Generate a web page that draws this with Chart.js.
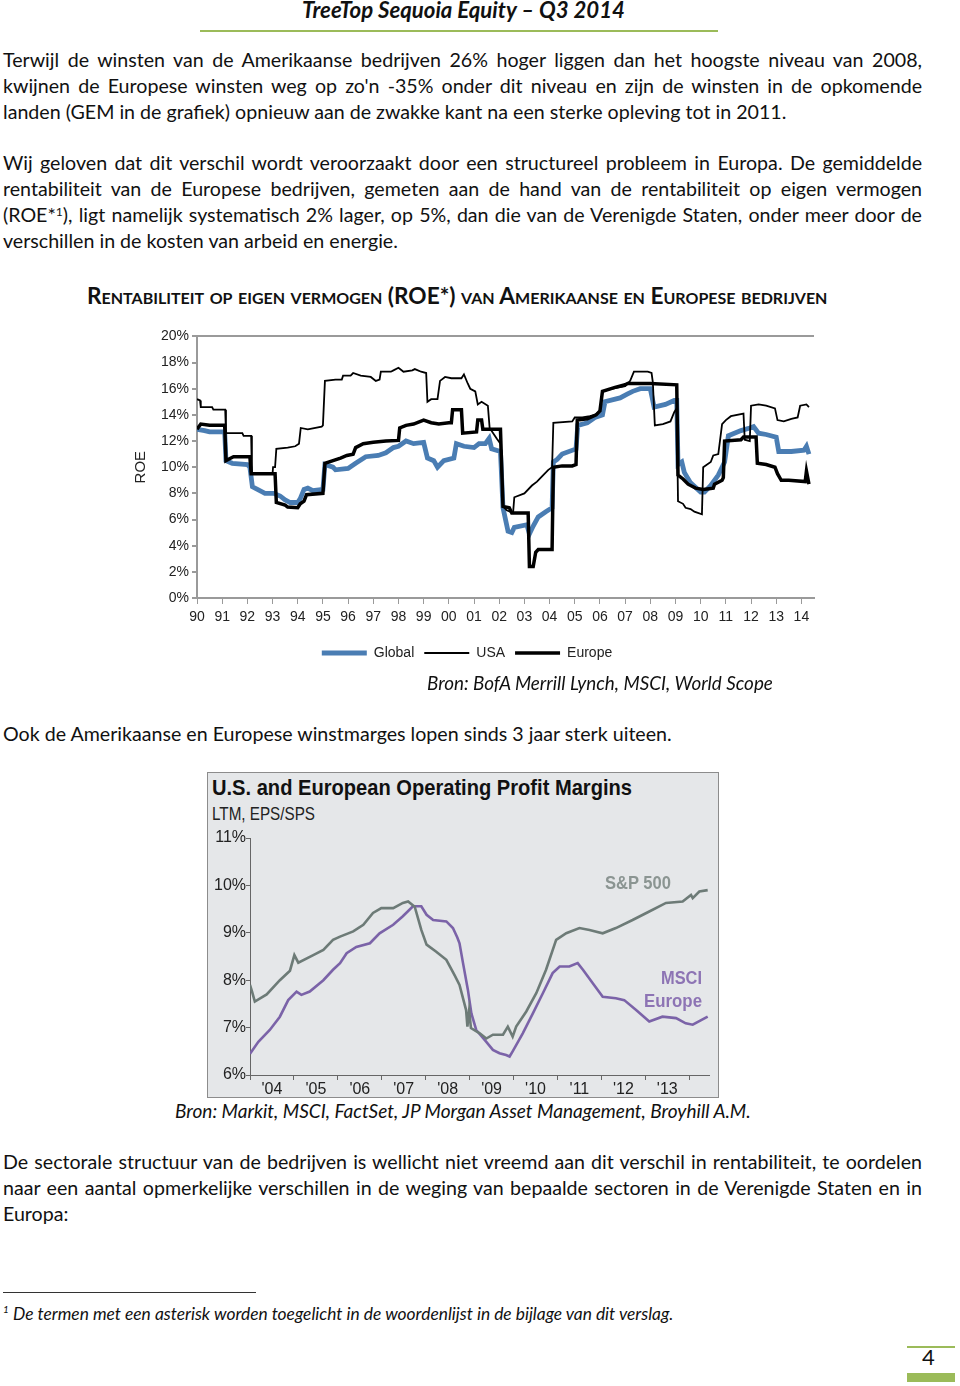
<!DOCTYPE html>
<html>
<head>
<meta charset="utf-8">
<script src="https://cdn.jsdelivr.net/npm/chart.js@4.4.1/dist/chart.umd.min.js"></script>
<style>
  body { margin: 0; background: #fff; }
  #page { position: relative; width: 960px; height: 1386px; overflow: hidden; font-family: Lato, "Open Sans", sans-serif; color: #111; }
  .t { position: absolute; white-space: nowrap; line-height: 26px; }
  .body { left: 3px; font-size: 18px; }
  .rule { position: absolute; }
  sup { font-size: 0.62em; line-height: 0; vertical-align: 0.5em; }
  #box2 { position: absolute; left: 207px; top: 772px; width: 512px; height: 326px; box-sizing: border-box; border: 1px solid #8c8c8c; background: #e5e7e9; }
  .c2 { position: absolute; white-space: nowrap; font-family: "Liberation Sans", Arial, sans-serif; transform-origin: 0 50%; line-height: 1; }
  canvas { position: absolute; }
</style>
</head>
<body>
<div id="page">
  <div class="t" id="hdr" style="top:-3px;font-weight:700;font-style:italic;font-size:20px;">TreeTop Sequoia Equity – Q3 2014</div>
  <div class="rule" style="left:200px;top:30px;width:518px;height:2px;background:#9bbb59;"></div>

  <div class="t body j" style="top:47px"><span>Terwijl de winsten van de Amerikaanse bedrijven 26% hoger liggen dan het hoogste niveau van 2008,</span></div>
  <div class="t body j" style="top:73px"><span>kwijnen de Europese winsten weg op zo'n -35% onder dit niveau en zijn de winsten in de opkomende</span></div>
  <div class="t body" style="top:99px"><span>landen (GEM in de grafiek) opnieuw aan de zwakke kant na een sterke opleving tot in 2011.</span></div>

  <div class="t body j" style="top:150px"><span>Wij geloven dat dit verschil wordt veroorzaakt door een structureel probleem in Europa. De gemiddelde</span></div>
  <div class="t body j" style="top:176px"><span>rentabiliteit van de Europese bedrijven, gemeten aan de hand van de rentabiliteit op eigen vermogen</span></div>
  <div class="t body j" style="top:202px"><span>(ROE*<sup>1</sup>), ligt namelijk systematisch 2% lager, op 5%, dan die van de Verenigde Staten, onder meer door de</span></div>
  <div class="t body" style="top:228px"><span>verschillen in de kosten van arbeid en energie.</span></div>

  <div class="t" id="title1" style="top:283px;left:87px;font-weight:700;font-variant:small-caps;font-size:18px;">Rentabiliteit op eigen vermogen (ROE*) van Amerikaanse en Europese bedrijven</div>

  <canvas id="roeChart" width="726" height="350" style="left:120px;top:325px;width:726px;height:350px;"></canvas>

  <div class="t fit" data-w="346" style="top:670px;left:427px;font-style:italic;font-size:18px;">Bron: BofA Merrill Lynch, MSCI, World Scope</div>

  <div class="t body" id="ook" style="top:721px"><span>Ook de Amerikaanse en Europese winstmarges lopen sinds 3 jaar sterk uiteen.</span></div>

  <div id="box2"></div>
  <div class="c2 sx" data-w="420" style="left:212px;top:777px;font-size:22px;font-weight:700;color:#111;">U.S. and European Operating Profit Margins</div>
  <div class="c2 sx" data-w="103" style="left:212px;top:804px;font-size:19px;color:#222;">LTM, EPS/SPS</div>
  <canvas id="marginChart" width="510" height="271" style="left:208px;top:826px;width:510px;height:271px;"></canvas>
  <div class="c2 sx" data-w="66" style="left:605px;top:873px;font-size:19px;font-weight:700;color:#8b9592;">S&amp;P 500</div>
  <div class="c2 sx" data-w="41" style="left:661px;top:968px;font-size:19px;font-weight:700;color:#8d74b4;">MSCI</div>
  <div class="c2 sx" data-w="58" style="left:644px;top:991px;font-size:19px;font-weight:700;color:#8d74b4;">Europe</div>

  <div class="t fit" data-w="576" style="top:1098px;left:175px;font-style:italic;font-size:18px;">Bron: Markit, MSCI, FactSet, JP Morgan Asset Management, Broyhill A.M.</div>

  <div class="t body j" style="top:1149px"><span>De sectorale structuur van de bedrijven is wellicht niet vreemd aan dit verschil in rentabiliteit, te oordelen</span></div>
  <div class="t body j" style="top:1175px"><span>naar een aantal opmerkelijke verschillen in de weging van bepaalde sectoren in de Verenigde Staten en in</span></div>
  <div class="t body" style="top:1201px"><span>Europa:</span></div>

  <div class="rule" style="left:3px;top:1292px;width:253px;height:1px;background:#333;"></div>
  <div class="t" style="top:1296px;left:3px;font-style:italic;font-size:10px;">1</div>
  <div class="t fit" data-w="661" style="top:1301px;left:13px;font-style:italic;font-size:15px;">De termen met een asterisk worden toegelicht in de woordenlijst in de bijlage van dit verslag.</div>

  <div class="rule" style="left:907px;top:1346px;width:48px;height:2px;background:#9bbb59;"></div>
  <div class="t" style="top:1344px;left:922px;font-size:22px;">4</div>
  <div class="rule" style="left:907px;top:1373px;width:48px;height:9px;background:#9bbb59;"></div>
</div>

<script>
// ROE chart data (year as decimal, ROE in %)
const roeTickYears = [1990, 1991, 1992, 1993, 1994, 1995, 1996, 1997, 1998, 1999, 2000, 2001, 2002, 2003, 2004, 2005, 2006, 2007, 2008, 2009, 2010, 2011, 2012, 2013, 2014];
const roeTickLabels = ['90', '91', '92', '93', '94', '95', '96', '97', '98', '99', '00', '01', '02', '03', '04', '05', '06', '07', '08', '09', '10', '11', '12', '13', '14'];

const globalYears = [1990.0, 1990.3, 1990.5, 1991.1, 1991.15, 1991.4, 1992.0, 1992.1, 1992.2, 1992.4, 1992.7, 1993.05, 1993.3, 1993.5, 1993.7, 1994.0, 1994.1, 1994.25, 1994.4, 1994.6, 1995.0, 1995.08, 1995.4, 1995.5, 1996.0, 1996.3, 1996.7, 1997.2, 1997.5, 1997.8, 1998.0, 1998.3, 1998.6, 1999.0, 1999.15, 1999.4, 1999.55, 1999.8, 2000.2, 2000.3, 2000.6, 2001.0, 2001.2, 2001.45, 2001.6, 2001.7, 2002.05, 2002.15, 2002.35, 2002.5, 2002.6, 2003.1, 2003.2, 2003.35, 2003.55, 2003.85, 2004.1, 2004.15, 2004.3, 2004.5, 2005.05, 2005.12, 2005.5, 2005.8, 2006.1, 2006.2, 2006.8, 2007.1, 2007.3, 2007.6, 2008.0, 2008.15, 2008.6, 2008.95, 2009.05, 2009.1, 2009.25, 2009.35, 2009.6, 2010.0, 2010.15, 2010.4, 2010.7, 2010.95, 2011.1, 2011.6, 2011.95, 2012.1, 2012.3, 2012.6, 2013.0, 2013.1, 2013.6, 2014.1, 2014.2, 2014.3];
const globalRoe = [12.9, 12.8, 12.7, 12.7, 10.5, 10.3, 10.2, 10.0, 8.5, 8.3, 8.0, 8.0, 7.8, 7.5, 7.3, 7.3, 7.6, 8.3, 8.4, 8.2, 8.3, 10.2, 10.0, 9.8, 9.9, 10.3, 10.8, 10.9, 11.1, 11.5, 11.6, 12.0, 11.8, 11.9, 10.7, 10.5, 10.0, 10.5, 10.7, 11.8, 11.6, 11.5, 11.8, 11.8, 12.2, 11.4, 11.2, 6.9, 5.1, 5.0, 5.4, 5.6, 4.9, 5.5, 6.2, 6.6, 6.9, 10.4, 10.6, 11.0, 11.4, 13.2, 13.4, 13.8, 14.0, 15.0, 15.3, 15.6, 15.8, 16.0, 16.0, 14.6, 14.8, 15.1, 15.1, 10.2, 10.4, 9.6, 8.8, 8.1, 8.1, 8.6, 9.4, 10.4, 12.4, 12.8, 13.0, 13.1, 12.6, 12.5, 12.3, 11.2, 11.2, 11.3, 11.6, 11.0];

const usaYears = [1990.0, 1990.12, 1990.15, 1990.6, 1990.65, 1991.12, 1991.15, 1991.8, 1991.85, 1992.15, 1992.18, 1993.0, 1993.02, 1993.1, 1993.15, 1993.6, 1993.9, 1994.05, 1994.12, 1994.4, 1994.95, 1995.0, 1995.08, 1995.5, 1995.75, 1995.8, 1996.1, 1996.2, 1996.5, 1996.9, 1997.1, 1997.25, 1997.3, 1997.7, 1997.8, 1998.0, 1998.2, 1998.55, 1998.65, 1998.9, 1999.1, 1999.15, 1999.3, 1999.55, 1999.65, 1999.85, 2000.1, 2000.5, 2000.6, 2000.75, 2000.85, 2001.05, 2001.15, 2001.3, 2001.55, 2001.62, 2001.9, 2002.05, 2002.15, 2002.3, 2002.55, 2002.6, 2003.0, 2003.3, 2003.5, 2003.7, 2003.95, 2004.1, 2004.15, 2004.9, 2005.0, 2005.3, 2005.6, 2005.8, 2006.0, 2006.1, 2006.5, 2007.0, 2007.1, 2007.2, 2007.35, 2007.9, 2008.05, 2008.1, 2008.18, 2008.5, 2008.8, 2008.95, 2009.05, 2009.1, 2009.3, 2009.4, 2009.6, 2009.75, 2010.05, 2010.1, 2010.4, 2010.5, 2010.7, 2010.85, 2011.0, 2011.2, 2011.7, 2011.75, 2011.95, 2012.0, 2012.3, 2012.6, 2012.95, 2013.05, 2013.3, 2013.6, 2013.85, 2013.95, 2014.2, 2014.3];
const usaRoe = [15.2, 15.1, 14.6, 14.6, 14.4, 14.4, 12.6, 12.6, 12.4, 12.4, 9.5, 9.5, 10.0, 10.0, 11.4, 11.5, 11.6, 11.8, 13.0, 12.9, 13.1, 13.2, 16.6, 16.7, 16.7, 17.0, 17.0, 17.2, 17.0, 16.9, 16.6, 16.7, 17.3, 17.3, 17.4, 17.6, 17.3, 17.4, 17.5, 17.3, 17.2, 15.0, 15.2, 15.2, 16.6, 16.9, 16.8, 16.8, 17.1, 16.4, 16.0, 15.8, 14.8, 15.0, 14.7, 13.0, 12.2, 11.8, 7.0, 6.7, 6.5, 7.7, 8.0, 8.6, 8.9, 9.3, 9.8, 10.0, 13.4, 13.5, 13.8, 13.8, 13.9, 14.0, 14.3, 15.8, 16.0, 16.2, 16.4, 16.6, 17.3, 17.3, 17.2, 16.5, 13.2, 13.3, 13.5, 14.2, 14.5, 7.4, 7.2, 6.9, 6.8, 6.6, 6.4, 10.0, 10.4, 10.9, 11.0, 13.3, 13.6, 13.9, 14.1, 12.1, 12.0, 14.7, 14.8, 14.7, 14.5, 13.6, 13.5, 13.7, 13.8, 14.7, 14.8, 14.6];

const europeYears = [1990.0, 1990.15, 1990.5, 1991.1, 1991.15, 1991.35, 1991.45, 1992.1, 1992.15, 1993.1, 1993.15, 1993.5, 1993.6, 1994.0, 1994.1, 1994.25, 1994.35, 1995.0, 1995.08, 1995.4, 1995.7, 1995.95, 1996.2, 1996.3, 1996.6, 1997.0, 1997.5, 1998.0, 1998.05, 1998.3, 1998.6, 1999.0, 1999.3, 1999.6, 2000.0, 2000.1, 2000.15, 2000.5, 2000.55, 2001.1, 2001.15, 2001.3, 2001.35, 2002.05, 2002.15, 2002.4, 2002.5, 2003.15, 2003.2, 2003.35, 2003.45, 2003.55, 2004.1, 2004.15, 2004.5, 2004.9, 2005.05, 2005.1, 2005.5, 2005.85, 2006.0, 2006.1, 2006.6, 2007.0, 2007.1, 2008.0, 2009.05, 2009.1, 2009.3, 2009.5, 2009.8, 2010.1, 2010.5, 2010.55, 2010.85, 2010.9, 2010.95, 2011.6, 2011.7, 2012.2, 2012.25, 2012.6, 2012.95, 2013.05, 2013.2, 2013.5, 2014.15, 2014.2, 2014.3];
const europeRoe = [12.9, 13.3, 13.2, 13.2, 10.5, 10.7, 10.8, 10.8, 9.5, 9.5, 7.3, 7.1, 6.95, 6.9, 7.2, 7.4, 7.9, 8.0, 10.3, 10.5, 10.7, 10.9, 11.0, 11.5, 11.8, 11.9, 12.0, 12.05, 13.0, 13.2, 13.3, 13.6, 13.4, 13.3, 13.4, 13.4, 14.4, 14.4, 12.6, 12.7, 13.6, 13.6, 12.9, 12.9, 7.0, 6.9, 6.5, 6.5, 2.4, 2.4, 3.5, 3.7, 3.7, 10.0, 10.1, 10.1, 10.2, 13.6, 13.7, 14.0, 14.3, 15.8, 16.1, 16.3, 16.4, 16.4, 16.3, 9.4, 9.1, 8.7, 8.4, 8.3, 8.4, 8.7, 9.0, 9.2, 12.0, 12.1, 12.3, 12.3, 10.3, 10.2, 10.0, 9.5, 9.0, 9.0, 8.9, 9.7, 8.7];

// Operating margin chart data
const marginTickYears = [2004, 2004.5, 2005, 2005.5, 2006, 2006.5, 2007, 2007.5, 2008, 2008.5, 2009, 2009.5, 2010, 2010.5, 2011, 2011.5, 2012, 2012.5, 2013, 2013.5, 2014];
const marginTickLabels = ['', "'04", '', "'05", '', "'06", '', "'07", '', "'08", '', "'09", '', "'10", '', "'11", '', "'12", '', "'13", ''];

const spYears = [2004.0, 2004.05, 2004.11, 2004.38, 2004.68, 2004.91, 2005.01, 2005.1, 2005.44, 2005.67, 2005.89, 2006.05, 2006.35, 2006.58, 2006.8, 2006.99, 2007.26, 2007.48, 2007.6, 2007.75, 2007.9, 2008.02, 2008.24, 2008.47, 2008.66, 2008.77, 2008.92, 2008.95, 2008.99, 2009.03, 2009.23, 2009.38, 2009.53, 2009.76, 2009.87, 2009.98, 2010.06, 2010.29, 2010.52, 2010.74, 2010.97, 2011.2, 2011.5, 2011.73, 2012.03, 2012.33, 2012.71, 2013.09, 2013.47, 2013.85, 2014.04, 2014.08, 2014.23, 2014.42];
const spMargin = [7.9, 7.75, 7.55, 7.7, 8.0, 8.2, 8.53, 8.37, 8.53, 8.64, 8.85, 8.92, 9.03, 9.17, 9.42, 9.52, 9.52, 9.63, 9.66, 9.55, 9.06, 8.75, 8.6, 8.43, 8.1, 7.9, 7.37, 7.02, 7.37, 6.99, 6.88, 6.77, 6.85, 6.85, 7.02, 6.81, 7.02, 7.34, 7.73, 8.22, 8.85, 8.99, 9.1, 9.06, 8.99, 9.1, 9.27, 9.45, 9.63, 9.66, 9.8, 9.73, 9.87, 9.9];

const msciYears = [2004.0, 2004.19, 2004.45, 2004.68, 2004.87, 2005.06, 2005.17, 2005.36, 2005.67, 2005.89, 2006.05, 2006.2, 2006.42, 2006.73, 2006.95, 2007.26, 2007.48, 2007.71, 2007.9, 2008.02, 2008.17, 2008.47, 2008.62, 2008.72, 2008.77, 2008.85, 2008.96, 2009.04, 2009.15, 2009.38, 2009.53, 2009.68, 2009.83, 2009.91, 2009.98, 2010.21, 2010.44, 2010.67, 2010.89, 2011.05, 2011.27, 2011.46, 2011.58, 2011.8, 2012.03, 2012.33, 2012.52, 2012.79, 2013.09, 2013.39, 2013.7, 2013.92, 2014.08, 2014.42];
const msciMargin = [6.45, 6.7, 6.95, 7.23, 7.58, 7.76, 7.69, 7.76, 8.0, 8.22, 8.36, 8.57, 8.7, 8.78, 8.99, 9.17, 9.35, 9.56, 9.56, 9.38, 9.27, 9.24, 9.1, 8.9, 8.78, 8.36, 7.8, 7.3, 6.95, 6.7, 6.53, 6.46, 6.42, 6.39, 6.5, 6.88, 7.3, 7.73, 8.15, 8.29, 8.29, 8.36, 8.22, 7.94, 7.65, 7.62, 7.58, 7.37, 7.13, 7.23, 7.2, 7.09, 7.06, 7.23];

const toPoints = (xs, ys) => xs.map((x, i) => ({ x: x, y: ys[i] }));

// --- text fitting ---
function widthOf(el) { return el.getBoundingClientRect().width; }
const ook = document.getElementById('ook');
const bodySize = 18 * 669 / widthOf(ook);
document.querySelectorAll('.body').forEach(el => { el.style.fontSize = bodySize + 'px'; });
document.querySelectorAll('.j').forEach(el => {
  const w = widthOf(el.firstElementChild);
  const spaces = (el.textContent.match(/ /g) || []).length;
  el.style.wordSpacing = ((919 - w) / spaces) + 'px';
});
document.querySelectorAll('.fit').forEach(el => {
  const target = parseFloat(el.dataset.w);
  el.style.fontSize = (parseFloat(el.style.fontSize) * target / widthOf(el)) + 'px';
});
document.querySelectorAll('.sx').forEach(el => {
  el.style.transform = 'scaleX(' + (parseFloat(el.dataset.w) / widthOf(el)) + ')';
});
const title1 = document.getElementById('title1');
title1.style.fontSize = (18 * 753 / widthOf(title1)) + 'px';
const hdr = document.getElementById('hdr');
hdr.style.fontSize = (20 * 323 / widthOf(hdr)) + 'px';
hdr.style.left = (463.5 - widthOf(hdr) / 2) + 'px';

// --- ROE chart ---
const axisFont = { family: '"Liberation Sans", Arial, sans-serif', size: 14 };
new Chart(document.getElementById('roeChart'), {
  type: 'line',
  data: {
    datasets: [
      { label: 'Global', data: toPoints(globalYears, globalRoe), borderColor: '#4a7db3', backgroundColor: '#4a7db3', borderWidth: 4.8, pointRadius: 0, order: 3 },
      { label: 'USA', data: toPoints(usaYears, usaRoe), borderColor: '#000', backgroundColor: '#000', borderWidth: 1.8, pointRadius: 0, order: 1 },
      { label: 'Europe', data: toPoints(europeYears, europeRoe), borderColor: '#000', backgroundColor: '#000', borderWidth: 3.5, pointRadius: 0, order: 2 }
    ]
  },
  options: {
    responsive: false,
    animation: false,
    layout: { padding: { top: 10, right: 32, bottom: 5, left: 0 } },
    plugins: {
      legend: {
        position: 'bottom',
        labels: {
          usePointStyle: true, pointStyle: 'line', pointStyleWidth: 45, padding: 10, color: '#222',
          font: { family: axisFont.family, size: 14 },
          sort: (a, b) => a.datasetIndex - b.datasetIndex
        }
      },
      tooltip: { enabled: false }
    },
    scales: {
      x: {
        type: 'linear', min: 1990, max: 2014.5,
        afterBuildTicks: axis => { axis.ticks = roeTickYears.map(v => ({ value: v })); },
        afterFit: s => { s.height = 38; },
        ticks: { callback: (v, i) => roeTickLabels[i], autoSkip: false, maxRotation: 0, padding: 5, color: '#222', font: axisFont },
        grid: { drawOnChartArea: false, tickLength: 6, color: '#9a9a9a' },
        border: { color: '#9a9a9a', width: 2 }
      },
      y: {
        min: 0, max: 20,
        afterFit: s => { s.width = 77; },
        ticks: { stepSize: 2, callback: v => v + '%', padding: 3, color: '#222', font: axisFont },
        grid: { color: c => (c.tick && c.tick.value === 20 ? '#9a9a9a' : 'rgba(0,0,0,0)'), lineWidth: 2, tickColor: '#9a9a9a', tickLength: 5 },
        border: { color: '#9a9a9a', width: 2 },
        title: { display: true, text: 'ROE', color: '#222', font: { family: axisFont.family, size: 15 }, padding: { top: 12, bottom: 0 } }
      }
    }
  }
});

// --- Operating margin chart ---
const mFont = { family: '"Liberation Sans", Arial, sans-serif', size: 16 };
new Chart(document.getElementById('marginChart'), {
  type: 'line',
  data: {
    datasets: [
      { label: 'S&P 500', data: toPoints(spYears, spMargin), borderColor: '#6d7b77', borderWidth: 2.6, pointRadius: 0 },
      { label: 'MSCI Europe', data: toPoints(msciYears, msciMargin), borderColor: '#7b63a8', borderWidth: 2.6, pointRadius: 0 }
    ]
  },
  options: {
    responsive: false,
    animation: false,
    layout: { padding: { top: 12, right: 9, bottom: 0, left: 0 } },
    plugins: { legend: { display: false }, tooltip: { enabled: false } },
    scales: {
      x: {
        type: 'linear', min: 2004, max: 2014.45,
        afterBuildTicks: axis => { axis.ticks = marginTickYears.map(v => ({ value: v })); },
        afterFit: s => { s.height = 22; },
        ticks: { callback: (v, i) => marginTickLabels[i], autoSkip: false, maxRotation: 0, padding: 0, color: '#222', font: mFont },
        grid: { drawOnChartArea: false, tickLength: 5, color: c => (c.tick && Number.isInteger(c.tick.value) ? '#666' : 'rgba(0,0,0,0)') },
        border: { color: '#666', width: 1 }
      },
      y: {
        min: 6, max: 11,
        afterFit: s => { s.width = 42; },
        ticks: { stepSize: 1, callback: v => v + '%', padding: 0, color: '#222', font: mFont },
        grid: { drawOnChartArea: false, tickLength: 4, color: '#666' },
        border: { color: '#666', width: 1 }
      }
    }
  }
});
</script>
</body>
</html>
